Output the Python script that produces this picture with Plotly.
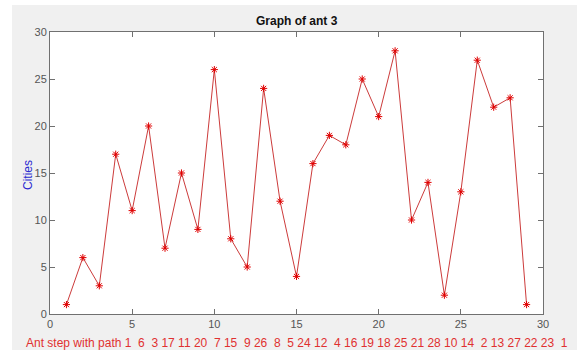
import plotly.graph_objects as go

steps = list(range(1, 30))
path = [1, 6, 3, 17, 11, 20, 7, 15, 9, 26, 8, 5, 24, 12, 4, 16, 19, 18, 25, 21, 28, 10, 14, 2, 13, 27, 22, 23, 1]
ticks = [0, 5, 10, 15, 20, 25, 30]

W, H = 577, 350
L, R, T, B = 50, 34, 32, 36
pw, ph = W - L - R, H - T - B

def px(x):
    return (x - L) / pw

def py(y):
    return (H - B - y) / ph

fig = go.Figure()
fig.add_trace(go.Scatter(
    x=steps, y=path, mode="lines+markers",
    line=dict(color="#cc3b3b", width=1),
    marker=dict(symbol="asterisk-open", size=6, color="#e00000",
                line=dict(color="#dd1010", width=1)),
    showlegend=False, hoverinfo="skip"))

nb = "\u00a0"
path_txt = nb.join([(nb + str(v)) if v < 10 else str(v) for v in path])
xlabel = "Ant step with path " + path_txt.lstrip(nb)

axis_common = dict(showline=True, linecolor="#707070", linewidth=1, mirror="ticks",
                   ticks="inside", ticklen=5, tickcolor="#707070", showgrid=False,
                   zeroline=False, tickfont=dict(family="Liberation Sans, Arial", size=11, color="#555555"))

fig.update_layout(
    width=W, height=H,
    margin=dict(l=L, r=R, t=T, b=B),
    paper_bgcolor="white", plot_bgcolor="white",
    xaxis=dict(range=[0, 30], tickvals=ticks, **axis_common),
    yaxis=dict(range=[0, 30], tickvals=ticks, **axis_common),
    shapes=[
        dict(type="rect", xref="paper", yref="paper", x0=px(12), x1=px(W + 5),
             y0=py(H + 5), y1=py(5), fillcolor="#f0f0f0", line=dict(width=0), layer="below"),
        dict(type="rect", xref="paper", yref="paper", x0=0, x1=1, y0=0, y1=1,
             fillcolor="white", line=dict(width=0), layer="below"),
    ],
    annotations=[
        dict(text="<b>Graph of ant 3</b>", xref="paper", yref="paper", x=px(297), y=py(21),
             showarrow=False, xanchor="center", yanchor="middle",
             font=dict(family="Liberation Sans, Arial", size=12, color="#111111")),
        dict(text="Cities", xref="paper", yref="paper", x=px(28), y=py(175),
             showarrow=False, xanchor="center", yanchor="middle", textangle=-90,
             font=dict(family="Liberation Sans, Arial", size=12, color="#2b2bd0")),
        dict(text=xlabel, xref="paper", yref="paper", x=px(297), y=py(343),
             showarrow=False, xanchor="center", yanchor="middle",
             font=dict(family="Liberation Sans, Arial", size=12, color="#e03030")),
    ],
)

fig.write_html("out.html")
